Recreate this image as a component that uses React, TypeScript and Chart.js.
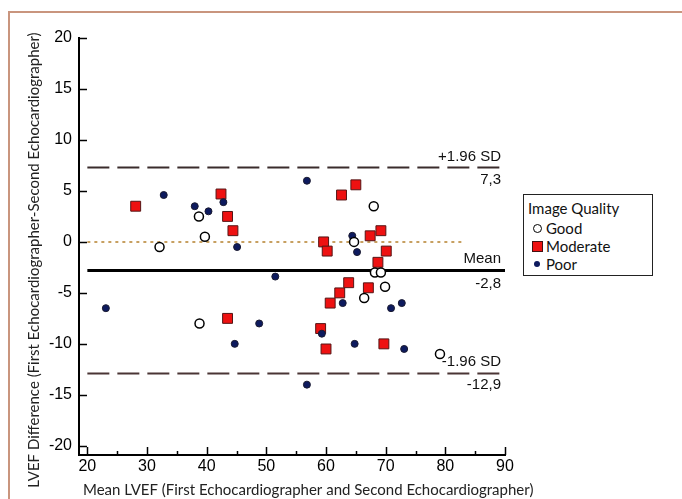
import React, { useEffect, useRef } from "react";
import { Chart, registerables } from "chart.js";

Chart.register(...registerables);

const goodPoints = [
  { x: 38.7, y: 2.5 }, { x: 39.7, y: 0.5 }, { x: 32.1, y: -0.5 }, { x: 68.0, y: 3.5 },
  { x: 64.7, y: 0.0 }, { x: 68.2, y: -3.0 }, { x: 69.2, y: -3.0 }, { x: 38.8, y: -8.0 },
  { x: 69.9, y: -4.4 }, { x: 66.4, y: -5.5 }, { x: 79.1, y: -11.0 },
];
const moderatePoints = [
  { x: 28.1, y: 3.5 }, { x: 42.4, y: 4.7 }, { x: 43.5, y: 2.5 }, { x: 44.4, y: 1.1 },
  { x: 65.0, y: 5.6 }, { x: 62.6, y: 4.6 }, { x: 69.2, y: 1.1 }, { x: 67.4, y: 0.6 },
  { x: 59.6, y: 0.0 }, { x: 60.2, y: -0.9 }, { x: 70.1, y: -0.9 }, { x: 68.7, y: -2.0 },
  { x: 43.5, y: -7.5 }, { x: 63.8, y: -4.0 }, { x: 67.1, y: -4.5 }, { x: 62.3, y: -5.0 },
  { x: 60.7, y: -6.0 }, { x: 59.1, y: -8.5 }, { x: 60.0, y: -10.5 }, { x: 69.7, y: -10.0 },
];
const poorPoints = [
  { x: 32.8, y: 4.6 }, { x: 38.0, y: 3.5 }, { x: 40.3, y: 3.0 }, { x: 42.8, y: 3.9 },
  { x: 45.1, y: -0.5 }, { x: 56.8, y: 6.0 }, { x: 64.4, y: 0.6 }, { x: 65.2, y: -1.0 },
  { x: 51.5, y: -3.4 }, { x: 23.1, y: -6.5 }, { x: 44.7, y: -10.0 }, { x: 48.8, y: -8.0 },
  { x: 62.8, y: -6.0 }, { x: 70.9, y: -6.5 }, { x: 72.7, y: -6.0 }, { x: 59.3, y: -9.0 },
  { x: 64.8, y: -10.0 }, { x: 73.1, y: -10.5 }, { x: 56.8, y: -14.0 },
];

const meanDiff = -2.8;
const upperLoA = 7.3;
const lowerLoA = -12.9;
const lineRange = [20, 90];
const zeroRange = [20, 83];

const xMajorTicks = [20, 30, 40, 50, 60, 70, 80, 90];
const xMinorTicks = [25, 35, 45, 55, 65, 75, 85];
const yTicks = [-20, -15, -10, -5, 0, 5, 10, 15, 20];

const xTitle = "Mean LVEF (First Echocardiographer and Second Echocardiographer)";
const yTitle = "LVEF Difference (First Echocardiographer-Second Echocardiographer)";
const legendTitle = "Image Quality";
const seriesNames = ["Good", "Moderate", "Poor"];

const TITLE_FONT = "Lato, 'Open Sans', sans-serif";
const TICK_FONT = "'Liberation Sans Narrow', 'Arial Narrow', 'Liberation Sans', Arial, sans-serif";
const NOTE_FONT = "'Liberation Sans', Arial, sans-serif";

const decorPlugin = {
  id: "decor",
  afterDraw(chart: any) {
    const { ctx, scales } = chart;
    const xs = scales.x;
    const ys = scales.y;
    const left = chart.chartArea.left;
    const bottom = chart.chartArea.bottom;
    ctx.save();
    ctx.strokeStyle = "#000";
    ctx.lineWidth = 1.5;
    yTicks.forEach((v) => {
      const py = Math.round(ys.getPixelForValue(v)) + 0.5;
      ctx.beginPath();
      ctx.moveTo(left, py);
      ctx.lineTo(left + 8, py);
      ctx.stroke();
    });
    xMajorTicks.forEach((v) => {
      const px = Math.round(xs.getPixelForValue(v)) + 0.5;
      ctx.beginPath();
      ctx.moveTo(px, bottom);
      ctx.lineTo(px, bottom - 8);
      ctx.stroke();
    });
    xMinorTicks.forEach((v) => {
      const px = Math.round(xs.getPixelForValue(v)) + 0.5;
      ctx.beginPath();
      ctx.moveTo(px, bottom);
      ctx.lineTo(px, bottom - 4);
      ctx.stroke();
    });

    const rx = xs.getPixelForValue(90) - 4;
    ctx.fillStyle = "#111";
    ctx.font = `15px ${NOTE_FONT}`;
    ctx.textAlign = "right";
    ctx.textBaseline = "middle";
    const up = ys.getPixelForValue(upperLoA);
    const mn = ys.getPixelForValue(meanDiff);
    const lo = ys.getPixelForValue(lowerLoA);
    ctx.fillText("+1.96 SD", rx, up - 11);
    ctx.fillText(upperLoA.toFixed(1).replace(".", ","), rx, up + 12);
    ctx.fillText("Mean", rx, mn - 12);
    ctx.fillText(meanDiff.toFixed(1).replace(".", ","), rx, mn + 13);
    ctx.fillText("-1.96 SD", rx, lo - 12);
    ctx.fillText(lowerLoA.toFixed(1).replace(".", ","), rx, lo + 11);

    ctx.fillStyle = "#222";
    ctx.font = `15px ${TITLE_FONT}`;
    ctx.textAlign = "left";
    ctx.textBaseline = "middle";
    ctx.fillText(xTitle, 83, 490);
    ctx.translate(34, 260);
    ctx.rotate(-Math.PI / 2);
    ctx.textAlign = "center";
    ctx.fillText(yTitle, 0, 0);
    ctx.restore();
  },
};

function LegendMarker({ kind }: { kind: string }) {
  if (kind === "Good")
    return <span style={{ display: "inline-block", width: 7, height: 7, borderRadius: "50%", border: "1.5px solid #000", background: "#fff" }} />;
  if (kind === "Moderate")
    return <span style={{ display: "inline-block", width: 9, height: 9, border: "1px solid #441111", background: "#ee1111" }} />;
  return <span style={{ display: "inline-block", width: 6, height: 6, borderRadius: "50%", background: "#0d1a5e" }} />;
}

export default function App() {
  const ref = useRef<HTMLCanvasElement | null>(null);
  useEffect(() => {
    if (!ref.current) return;
    const chart = new Chart(ref.current, {
      type: "scatter",
      data: {
        datasets: [
          {
            type: "line",
            label: "upper",
            data: lineRange.map((x) => ({ x, y: upperLoA })),
            borderColor: "#3a2c2c",
            borderWidth: 2,
            borderDash: [22, 8],
            pointRadius: 0,
            order: 10,
          } as any,
          {
            type: "line",
            label: "lower",
            data: lineRange.map((x) => ({ x, y: lowerLoA })),
            borderColor: "#4a3535",
            borderWidth: 2,
            borderDash: [22, 8],
            pointRadius: 0,
            order: 10,
          },
          {
            type: "line",
            label: "zero",
            data: zeroRange.map((x) => ({ x, y: 0 })),
            borderColor: "#b5812e",
            borderWidth: 1.5,
            borderDash: [3, 4],
            pointRadius: 0,
            order: 10,
          },
          {
            type: "line",
            label: "mean",
            data: lineRange.map((x) => ({ x, y: meanDiff })),
            borderColor: "#000",
            borderWidth: 3,
            pointRadius: 0,
            order: 10,
          },
          {
            label: seriesNames[1],
            data: moderatePoints,
            pointStyle: "rect",
            pointRadius: 7,
            backgroundColor: "#ee1111",
            borderColor: "#551515",
            borderWidth: 1,
            order: 3,
          },
          {
            label: seriesNames[2],
            data: poorPoints,
            pointStyle: "circle",
            pointRadius: 3.5,
            backgroundColor: "#0d1a5e",
            borderColor: "#1a1a30",
            borderWidth: 1,
            order: 2,
          },
          {
            label: seriesNames[0],
            data: goodPoints,
            pointStyle: "circle",
            pointRadius: 4.5,
            backgroundColor: "#fff",
            borderColor: "#000",
            borderWidth: 1.5,
            order: 1,
          },
        ],
      },
      options: {
        responsive: false,
        animation: false,
        clip: false as any,
        layout: { padding: { left: 0, top: 38, right: 177, bottom: 0 } },
        plugins: { legend: { display: false }, tooltip: { enabled: false } },
        scales: {
          x: {
            type: "linear",
            min: 18.6,
            max: 90,
            grid: { display: false, drawTicks: false, tickLength: 0 },
            border: { display: true, color: "#000", width: 2 },
            afterBuildTicks: (s: any) => {
              s.ticks = xMajorTicks.map((v) => ({ value: v }));
            },
            afterFit: (s: any) => {
              s.height = 44;
            },
            ticks: {
              autoSkip: false,
              maxRotation: 0,
              padding: 2,
              color: "#000",
              font: { family: TICK_FONT, size: 16 },
              callback: (v: any) => String(v),
            },
          },
          y: {
            type: "linear",
            min: -20.9,
            max: 20,
            grid: { display: false, drawTicks: false, tickLength: 0 },
            border: { display: true, color: "#000", width: 2 },
            afterBuildTicks: (s: any) => {
              s.ticks = yTicks.map((v) => ({ value: v }));
            },
            afterFit: (s: any) => {
              s.width = 79;
            },
            ticks: {
              autoSkip: false,
              padding: 7,
              color: "#000",
              font: { family: TICK_FONT, size: 16 },
              callback: (v: any) => String(v),
            },
          },
        },
      },
      plugins: [decorPlugin],
    });
    return () => chart.destroy();
  }, []);

  return (
    <div style={{ position: "absolute", left: 0, top: 0, width: 682, height: 499, background: "#fff", overflow: "hidden" }}>
      <div style={{ position: "absolute", left: 8, top: 11, width: 700, height: 520, borderTop: "2px solid #c9957e", borderLeft: "2px solid #c9957e" }} />
      <canvas ref={ref} width={682} height={499} style={{ position: "absolute", left: 0, top: 0 }} />
      <div
        style={{
          position: "absolute",
          left: 523,
          top: 194,
          width: 128,
          height: 80,
          border: "1.5px solid #222",
          background: "#fff",
          fontFamily: TITLE_FONT,
          fontSize: 15,
          color: "#111",
          lineHeight: "18px",
        }}
      >
        <div style={{ position: "absolute", left: 4, top: 4 }}>{legendTitle}</div>
        {seriesNames.map((n, i) => (
          <div key={n} style={{ position: "absolute", left: 7, top: 24 + i * 18, display: "flex", alignItems: "center" }}>
            <span style={{ width: 12, display: "inline-flex", justifyContent: "center" }}>
              <LegendMarker kind={n} />
            </span>
            <span style={{ marginLeft: 3 }}>{n}</span>
          </div>
        ))}
      </div>
    </div>
  );
}
